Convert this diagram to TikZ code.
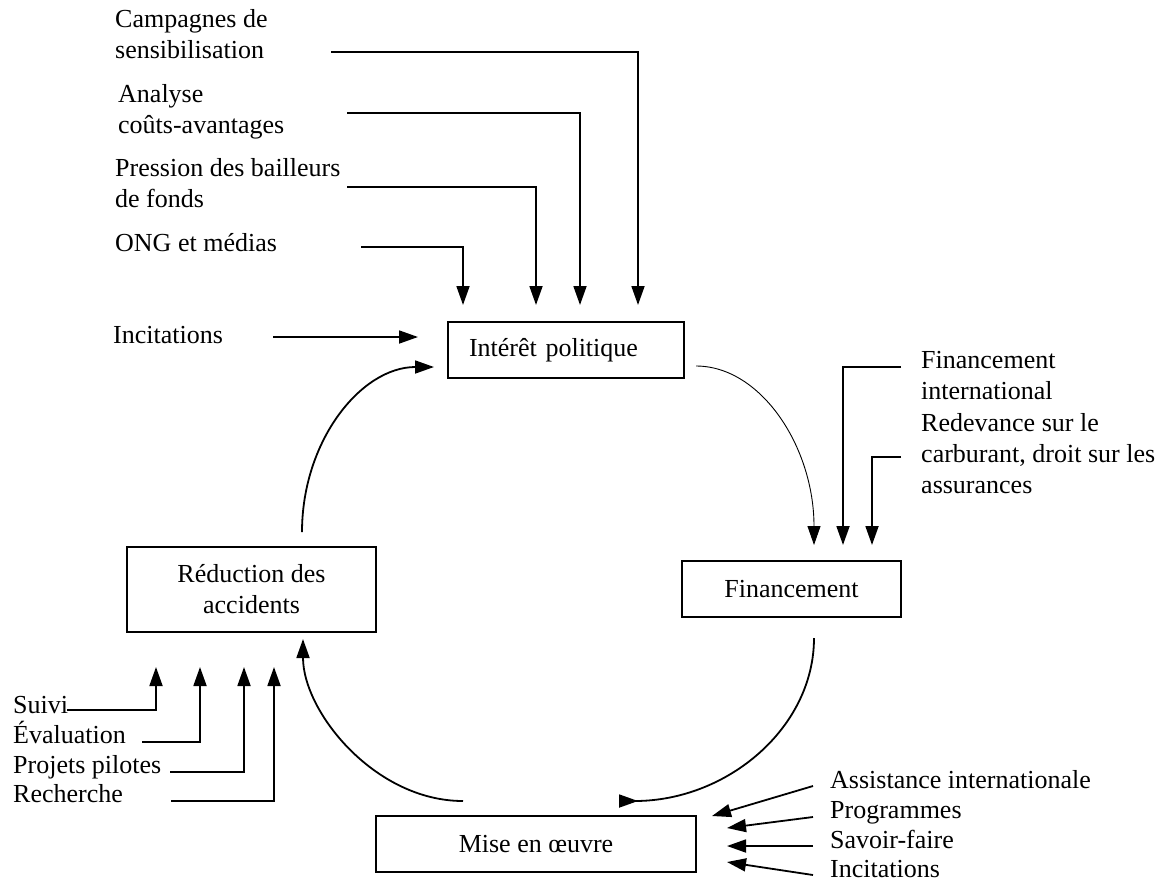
\documentclass[tikz,border=0pt]{standalone}
\usepackage{fontspec}
\setmainfont{Liberation Serif}
\usetikzlibrary{arrows.meta}
\begin{document}
\begin{tikzpicture}[x=1pt,y=-1pt,
  every node/.style={font=\fontsize{26pt}{31pt}\selectfont},
  lbl/.style={anchor=base west, inner sep=0pt, align=left},
  boxn/.style={draw, line width=1.8pt, inner sep=0pt, align=center},
  conn/.style={line width=1.8pt},
  arr/.style={line width=1.8pt, -{Triangle[length=19pt,width=13pt]}},
  thinarr/.style={line width=0.9pt, -{Triangle[length=19pt,width=13pt]}},
  revarr/.style={line width=1.8pt, -{Triangle[length=19pt,width=13pt,reversed]}}]
\useasboundingbox (0,0) rectangle (1166,884);

% boxes
\node[boxn, minimum width=236pt, minimum height=56pt, text width=194pt, inner xsep=21pt, align=left] (interet) at (566,350) {Intérêt politique};
\node[boxn, minimum width=219pt, minimum height=56pt] (fin) at (791.5,589) {Financement};
\node[boxn, minimum width=320pt, minimum height=56pt] (mise) at (536,844) {Mise en œuvre};
\node[boxn, minimum width=249pt, minimum height=85pt] (reduc) at (251.5,589.5) {Réduction des\\accidents};

% top-left labels (base anchor = last line's baseline)
\node[lbl] (camp) at (115,58) {Campagnes de\\sensibilisation};
\node[lbl] (ana) at (118,133) {Analyse\\coûts-avantages};
\node[lbl] (pres) at (115,207) {Pression des bailleurs\\de fonds};
\node[lbl] (ong) at (115,251) {ONG et médias};
\node[lbl] (inc) at (113,343) {Incitations};

% top-right labels
\node[lbl] (finint) at (921,399) {Financement\\international};
\node[lbl] (redev) at (921,493) {Redevance sur le\\carburant, droit sur les\\assurances};

% bottom-left labels
\node[lbl] (suivi) at (13,713) {Suivi};
\node[lbl] (eval) at (13,743) {Évaluation};
\node[lbl] (proj) at (13,773) {Projets pilotes};
\node[lbl] (rech) at (13,802) {Recherche};

% bottom-right labels
\node[lbl] (assist) at (830,788) {Assistance internationale};
\node[lbl] (prog) at (830,818) {Programmes};
\node[lbl] (savoir) at (830,848) {Savoir-faire};
\node[lbl] (incit) at (830,877) {Incitations};

% connector end points
\coordinate (campS) at (331,52);  \coordinate (campT) at (638,305);
\coordinate (anaS) at (347,113);  \coordinate (anaT) at (580,305);
\coordinate (presS) at (347,187); \coordinate (presT) at (536,305);
\coordinate (ongS) at (361,247);  \coordinate (ongT) at (463,305);
\coordinate (incS) at (273,337);  \coordinate (incT) at (418,337);

\coordinate (finintS) at (901,367); \coordinate (finintT) at (843,545);
\coordinate (redevS) at (901,457);  \coordinate (redevT) at (872,545);

\coordinate (suiviS) at (67,710);  \coordinate (suiviT) at (156,667);
\coordinate (evalS) at (142,742);  \coordinate (evalT) at (200,667);
\coordinate (projS) at (170,772);  \coordinate (projT) at (244,667);
\coordinate (rechS) at (171,801);  \coordinate (rechT) at (274,667);

\coordinate (assistS) at (813,786); \coordinate (assistT) at (712,816);
\coordinate (progS) at (813,817);   \coordinate (progT) at (727,828);
\coordinate (savoirS) at (813,846); \coordinate (savoirT) at (727,846);
\coordinate (incitS) at (813,875);  \coordinate (incitT) at (727,862);

\coordinate (c1S) at (696,366); \coordinate (c1T) at (814,545);
\coordinate (c2S) at (814,638); \coordinate (c2T) at (619,801);
\coordinate (c3S) at (463,801); \coordinate (c3T) at (303,639);
\coordinate (c4S) at (302,532); \coordinate (c4T) at (434,367);

% straight connectors
\draw[arr] (campS) -| (campT);
\draw[arr] (anaS) -| (anaT);
\draw[arr] (presS) -| (presT);
\draw[arr] (ongS) -| (ongT);
\draw[arr] (incS) -- (incT);

\draw[arr] (finintS) -| (finintT);
\draw[arr] (redevS) -| (redevT);

\draw[arr] (suiviS) -| (suiviT);
\draw[arr] (evalS) -| (evalT);
\draw[arr] (projS) -| (projT);
\draw[arr] (rechS) -| (rechT);

\draw[arr] (assistS) -- (assistT);
\draw[arr] (progS) -- (progT);
\draw[arr] (savoirS) -- (savoirT);
\draw[arr] (incitS) -- (incitT);

% cycle curves
\draw[thinarr] (c1S) .. controls (761,366) and (814,447) .. (c1T);
\draw[revarr] (c2S) .. controls (814,728) and (727,801) .. (c2T);
\draw[arr] (c3S) .. controls (375,801) and (303,712) .. (c3T);
\draw[arr] (c4S) .. controls (302,441) and (361,367) .. (c4T);
\end{tikzpicture}
\end{document}
